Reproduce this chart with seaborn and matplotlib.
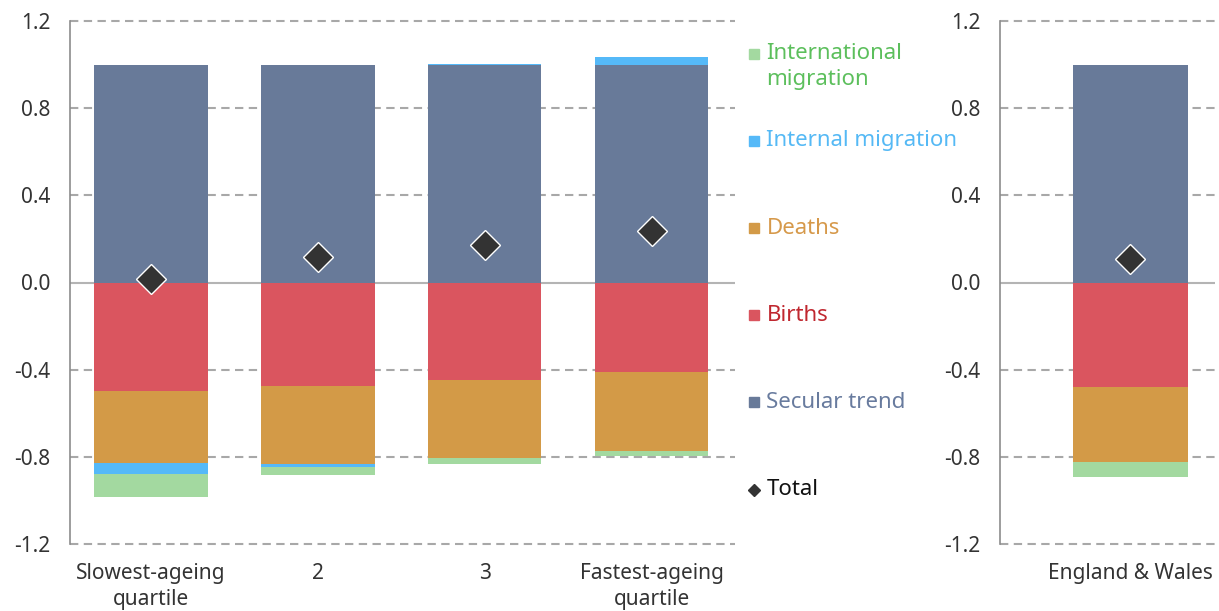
import numpy as np
import pandas as pd
import matplotlib
matplotlib.use("Agg")
import matplotlib.pyplot as plt
import seaborn as sns

sns.set_style("white")
plt.rcParams['font.family'] = ['Noto Sans', 'DejaVu Sans']

# ---- data ----
categories = ["Slowest-ageing\nquartile", "2", "3", "Fastest-ageing\nquartile"]
secular = [1.0, 1.0, 1.0, 1.0]
births = [-0.50, -0.476, -0.449, -0.411]
deaths = [-0.33, -0.355, -0.356, -0.362]
internal = [-0.05, -0.014, 0.004, 0.034]
international = [-0.104, -0.037, -0.026, -0.021]
total = [0.016, 0.118, 0.172, 0.236]

ew_category = ["England & Wales"]
ew_secular = [1.0]
ew_births = [-0.479]
ew_deaths = [-0.344]
ew_internal = [0.0]
ew_international = [-0.068]
ew_total = [0.108]

series_names = ["Secular trend", "Births", "Deaths", "Internal migration", "International migration"]
colors = {
    "Secular trend": "#687a99",
    "Births": "#da555f",
    "Deaths": "#d39a47",
    "Internal migration": "#55b9f8",
    "International migration": "#a3d9a0",
}
text_colors = {
    "Secular trend": "#687b9e",
    "Births": "#c0272f",
    "Deaths": "#d6994a",
    "Internal migration": "#55b9f5",
    "International migration": "#5cbf5c",
}
yticks = [-1.2, -0.8, -0.4, 0.0, 0.4, 0.8, 1.2]
ytick_labels = ["-1.2", "-0.8", "-0.4", "0.0", "0.4", "0.8", "1.2"]

W, H = 1219, 611
fig = plt.figure(figsize=(W / 100, H / 100), dpi=100)
ax1 = fig.add_axes([70 / W, (611 - 544) / H, (735 - 70) / W, (544 - 21) / H])
ax2 = fig.add_axes([1000 / W, (611 - 544) / H, (1215 - 1000) / W, (544 - 21) / H])

grid_color = "#a8a8a8"
text_color = "#333333"
FS = 15


def draw_panel(ax, cats, layers, totals, bar_width, xlim):
    pos_cum = np.zeros(len(cats))
    neg_cum = np.zeros(len(cats))
    for name, vals in layers:
        vals = np.asarray(vals, dtype=float)
        bottoms = np.where(vals >= 0, pos_cum, neg_cum)
        df = pd.DataFrame({"cat": cats, "val": vals})
        sns.barplot(data=df, x="cat", y="val", bottom=bottoms, color=colors[name],
                    width=bar_width, ax=ax, linewidth=0, saturation=1, zorder=3,
                    errorbar=None)
        pos_cum = pos_cum + np.where(vals >= 0, vals, 0)
        neg_cum = neg_cum + np.where(vals < 0, vals, 0)
    dft = pd.DataFrame({"cat": cats, "val": totals})
    sns.pointplot(data=dft, x="cat", y="val", marker="D", linestyle="none",
                  color="#333333", markersize=15, markeredgecolor="white",
                  markeredgewidth=1.0, ax=ax, errorbar=None, zorder=5)
    ax.set_xlim(*xlim)
    ax.set_ylim(-1.2, 1.2)
    ax.set_yticks(yticks)
    ax.set_yticklabels(ytick_labels)
    for y in yticks:
        if y == 0:
            ax.axhline(y, color="#b4b4b4", lw=1.5, zorder=2)
        else:
            ax.axhline(y, color=grid_color, lw=1.5, ls=(0, (4, 2.6)), zorder=1,
                       clip_on=False)
    ax.grid(False)
    for s in ["top", "right", "bottom"]:
        ax.spines[s].set_visible(False)
    ax.spines["left"].set_color("#8c8c8c")
    ax.spines["left"].set_linewidth(1.2)
    ax.tick_params(axis="y", direction="out", length=6, width=1, color="#8c8c8c",
                   labelsize=FS, labelcolor=text_color, pad=8)
    ax.tick_params(axis="x", length=0, labelsize=FS, labelcolor=text_color, pad=14)
    for lbl in ax.get_xticklabels():
        lbl.set_linespacing(1.3)
    ax.set_xlabel("")
    ax.set_ylabel("")


draw_panel(ax1, categories,
           [("Secular trend", secular), ("Births", births), ("Deaths", deaths),
            ("Internal migration", internal), ("International migration", international)],
           total, 0.68, (-0.485, 3.5))
draw_panel(ax2, ew_category,
           [("Secular trend", ew_secular), ("Births", ew_births), ("Deaths", ew_deaths),
            ("Internal migration", ew_internal), ("International migration", ew_international)],
           ew_total, 0.69, (-0.78, 0.51))

# ---- legend (inline, between panels) ----
legend_items = ["International migration", "Internal migration", "Deaths", "Births", "Secular trend"]
legend_labels = [["International", "migration"], ["Internal migration"], ["Deaths"],
                 ["Births"], ["Secular trend"]]
legend_y = [1.05, 0.65, 0.25, -0.15, -0.55]
mx = (755 - 151) / 167
tx = (767 - 151) / 167
line_step = 26 / 218
LFS = 16
for name, lines, y in zip(legend_items, legend_labels, legend_y):
    ax1.plot([mx], [y], marker="s", markersize=7.5, color=colors[name], clip_on=False,
             linestyle="none")
    for i, ln in enumerate(lines):
        ax1.text(tx, y - i * line_step, ln, color=text_colors[name], fontsize=LFS,
                 va="center", ha="left", clip_on=False)
ax1.plot([mx], [-0.95], marker="D", markersize=6.5, color="#333333", clip_on=False,
         linestyle="none")
ax1.text(tx, -0.95, "Total", color="#111111", fontsize=LFS, va="center", ha="left",
         clip_on=False)

fig.savefig("out.png", dpi=100)
